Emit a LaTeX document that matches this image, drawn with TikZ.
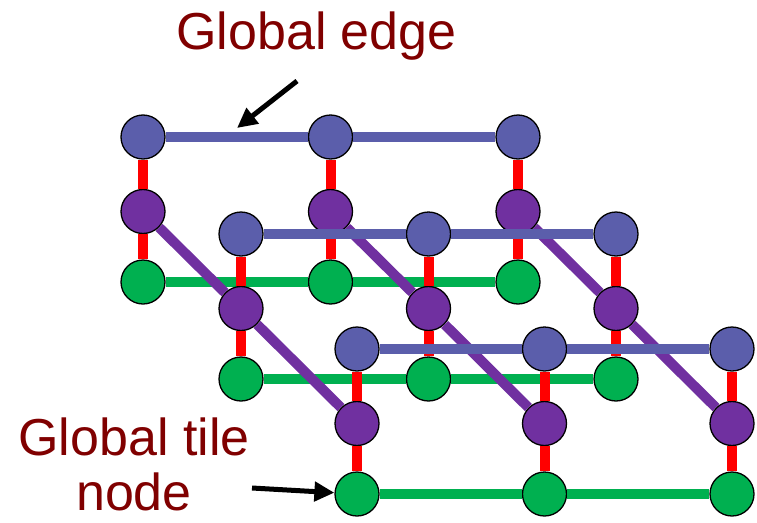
\documentclass[tikz,border=0pt]{standalone}
\usepackage{fontspec}
\setmainfont{Liberation Sans}
\usepackage{tikz}
\usetikzlibrary{arrows.meta}

\definecolor{tileblue}{HTML}{5B5EAB}
\definecolor{tilepurple}{HTML}{7030A0}
\definecolor{tilegreen}{HTML}{00B050}
\definecolor{linkred}{HTML}{FF0000}
\definecolor{captionred}{HTML}{800000}

\tikzset{
    tile/.style={circle, draw=black, line width=1.3pt, minimum size=44pt, inner sep=0pt},
    bluetile/.style={tile, fill=tileblue},
    purpletile/.style={tile, fill=tilepurple},
    greentile/.style={tile, fill=tilegreen},
    link/.style={line width=10pt},
    pointer/.style={line width=5pt, -{Triangle[length=20pt, width=19pt]}},
    caption/.style={text=captionred, font=\fontsize{52}{55}\selectfont, align=center}
}

\begin{document}
\begin{tikzpicture}[x=1pt, y=-1pt]
    \useasboundingbox (0, 0) rectangle (757, 522);
    % three tiles, back to front
    \foreach \d/\ox/\oy in {1/143/137, 2/241/234, 3/357/349} {
        \foreach \c in {0, 1, 2} {
            \node[bluetile] (blue-\d-\c) at ({\ox+187.5*\c}, \oy) {};
            \node[purpletile] (purple-\d-\c) at ({\ox+187.5*\c}, {\oy+74.5}) {};
            \node[greentile] (green-\d-\c) at ({\ox+187.5*\c}, {\oy+145}) {};
        }
        % purple links to the tile behind
        \ifnum\d>1
            \pgfmathtruncatemacro\p{\d-1}
            \foreach \c in {0, 1, 2}
                \draw[link, tilepurple] (purple-\p-\c) -- (purple-\d-\c);
        \fi
        \foreach \c in {0, 1, 2}
            \draw[link, linkred] (blue-\d-\c) -- (purple-\d-\c) -- (green-\d-\c);
        \draw[link, tileblue] (blue-\d-0) -- (blue-\d-1) -- (blue-\d-2);
        \draw[link, tilegreen] (green-\d-0) -- (green-\d-1) -- (green-\d-2);
    }
    % labels
    \node[caption, anchor=base] (edge-label) at (316.5, 49) {Global edge};
    \node[caption, anchor=base] (tile-label) at (134, 510) {Global tile\\node};
    \coordinate (edge-tail) at (297, 81);
    \coordinate (edge-head) at (237, 128);
    \coordinate (tile-tail) at (252, 488);
    \draw[pointer] (edge-tail) -- (edge-head);
    \draw[pointer] (tile-tail) -- (green-3-0);
\end{tikzpicture}
\end{document}
